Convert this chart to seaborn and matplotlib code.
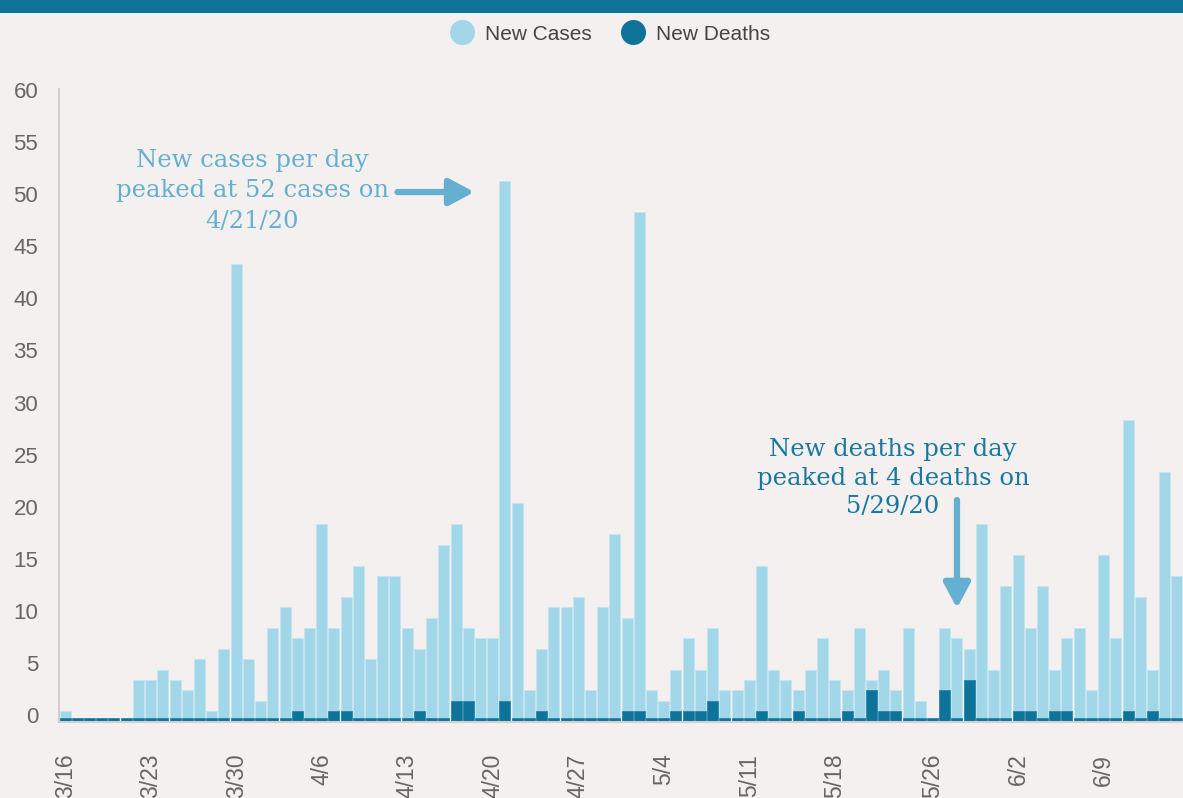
import numpy as np
import pandas as pd
import matplotlib.pyplot as plt
import matplotlib.transforms as mtransforms
from matplotlib.lines import Line2D
from matplotlib.patches import Rectangle
import seaborn as sns

# daily values, 3/16/20 - 6/15/20
days = pd.date_range("2020-03-16", "2020-06-15")
dates = [f"{d.month}/{d.day}" for d in days]

new_cases = [1, 0, 0, 0, 0, 0, 4, 4, 5, 4, 3, 6, 1, 7, 44, 6, 2, 9, 11, 8, 9, 19, 9, 12, 15, 6, 14, 14,
             9, 7, 10, 17, 19, 9, 8, 8, 52, 21, 3, 7, 11, 11, 12, 3, 11, 18, 10, 49, 3, 2,
             5, 8, 5, 9, 3, 3, 4, 15, 5,
             4, 3, 5, 8, 4, 3, 9, 4, 5, 3, 9, 2, 0, 9, 8, 7, 19, 5, 13, 16,
             9, 13, 5, 8, 9, 3, 16, 8, 29, 12, 5, 24, 14]
new_deaths = [0, 0, 0, 0, 0, 0, 0, 0, 0, 0, 0, 0, 0, 0, 0, 0, 0, 0, 0, 1, 0, 0, 1, 1, 0, 0, 0, 0,
              0, 1, 0, 0, 2, 2, 0, 0, 2, 0, 0, 1, 0, 0, 0, 0, 0, 0, 1, 1, 0, 0,
              1, 1, 1, 2, 0, 0, 0, 1, 0,
              0, 1, 0, 0, 0, 1, 0, 3, 1, 1, 0, 0, 0, 3, 0, 4, 0, 0, 0, 1,
              1, 0, 1, 1, 0, 0, 0, 0, 1, 0, 1, 0, 0]
tick_labels = ["3/16", "3/23", "3/30", "4/6", "4/13", "4/20", "4/27",
               "5/4", "5/11", "5/18", "5/26", "6/2", "6/9"]
legend_labels = ["New Cases", "New Deaths"]

bg = "#f3f0ef"
c_cases = "#a1d7e8"
c_deaths = "#0e7399"
c_arrow = "#65afd0"
c_axis = "#d3cfce"

df = pd.DataFrame({"date": dates, "cases": new_cases, "deaths": new_deaths})
# zero-death days are still drawn as a thin stub
df["deaths_drawn"] = np.where(df["deaths"] == 0, 0.38, df["deaths"])

sns.set_style("white", {"axes.facecolor": bg, "figure.facecolor": bg})
plt.rcParams["font.family"] = ["Liberation Sans", "DejaVu Sans"]

fig = plt.figure(figsize=(11.83, 7.98), dpi=100, facecolor=bg)
ax = fig.add_axes([59 / 1183, 1 - 721.7 / 798, 1 - 59 / 1183, (721.7 - 89) / 798])

sns.barplot(data=df, x="date", y="cases", color=c_cases, width=0.9, saturation=1,
            errorbar=None, edgecolor="#c4e6f1", linewidth=0.6, ax=ax)
sns.barplot(data=df, x="date", y="deaths_drawn", color=c_deaths, width=0.9, saturation=1,
            errorbar=None, edgecolor="#2b86a9", linewidth=0.6, ax=ax)

ax.set_xlim(-0.5, len(dates) - 0.5)
ax.set_ylim(0, 60.8)
ax.set_xlabel("")
ax.set_ylabel("")

ax.set_yticks(np.arange(0, 61, 5))
ax.tick_params(axis="y", length=10, width=1.2, color=c_axis, labelsize=16, labelcolor="#666666", pad=5)
shift = mtransforms.ScaledTranslation(0, 0.07, fig.dpi_scale_trans)
for lab in ax.get_yticklabels():
    lab.set_transform(lab.get_transform() + shift)

ax.set_xticks([dates.index(t) for t in tick_labels])
ax.set_xticklabels(tick_labels, rotation=90, va="top")
ax.tick_params(axis="x", which="major", length=0, pad=23, labelsize=16.5, labelcolor="#666666")
ax.set_xticks(np.arange(-0.5, len(dates), 1), minor=True)
ax.tick_params(axis="x", which="minor", length=9, width=1.5, color="#c8c3c2")

for s in ["top", "right"]:
    ax.spines[s].set_visible(False)
for s in ["left", "bottom"]:
    ax.spines[s].set_color(c_axis)
    ax.spines[s].set_linewidth(1.5)

# annotations
i_case = dates.index("4/21")
ax.text(i_case - 20.7, 51.0, "New cases per day\npeaked at 52 cases on\n4/21/20",
        ha="center", va="center", fontsize=17.5, color=c_arrow, family="DejaVu Serif",
        linespacing=1.4)
ax.annotate("", xy=(i_case - 2.5, 50.9), xytext=(i_case - 8.8, 50.9),
            arrowprops=dict(arrowstyle="-|>,head_length=0.6,head_width=0.32", lw=4.5,
                            color=c_arrow, mutation_scale=25, shrinkA=0, shrinkB=0))

i_death = dates.index("5/29")
ax.text(i_death - 6.25, 23.4, "New deaths per day\npeaked at 4 deaths on\n5/29/20",
        ha="center", va="center", fontsize=17.5, color="#1a78a0", family="DejaVu Serif",
        linespacing=1.3)
ax.annotate("", xy=(i_death - 1.0, 10.9), xytext=(i_death - 1.0, 21.3),
            arrowprops=dict(arrowstyle="-|>,head_length=0.6,head_width=0.32", lw=4.5,
                            color=c_arrow, mutation_scale=25, shrinkA=0, shrinkB=0))

# top band and legend
fig.add_artist(Rectangle((0, 1 - 12.5 / 798), 1, 12.5 / 798, transform=fig.transFigure,
                         color=c_deaths, lw=0))
handles = [Line2D([], [], marker="o", ls="", markersize=17, markerfacecolor=c,
                  markeredgecolor=c, label=l) for c, l in zip([c_cases, c_deaths], legend_labels)]
fig.legend(handles=handles, loc="upper center", bbox_to_anchor=(0.512, 1 - 6 / 798), ncol=2,
           frameon=False, fontsize=15, handletextpad=0.1, columnspacing=1.0,
           labelcolor="#444444")

fig.savefig("out.png", dpi=100, facecolor=bg)
